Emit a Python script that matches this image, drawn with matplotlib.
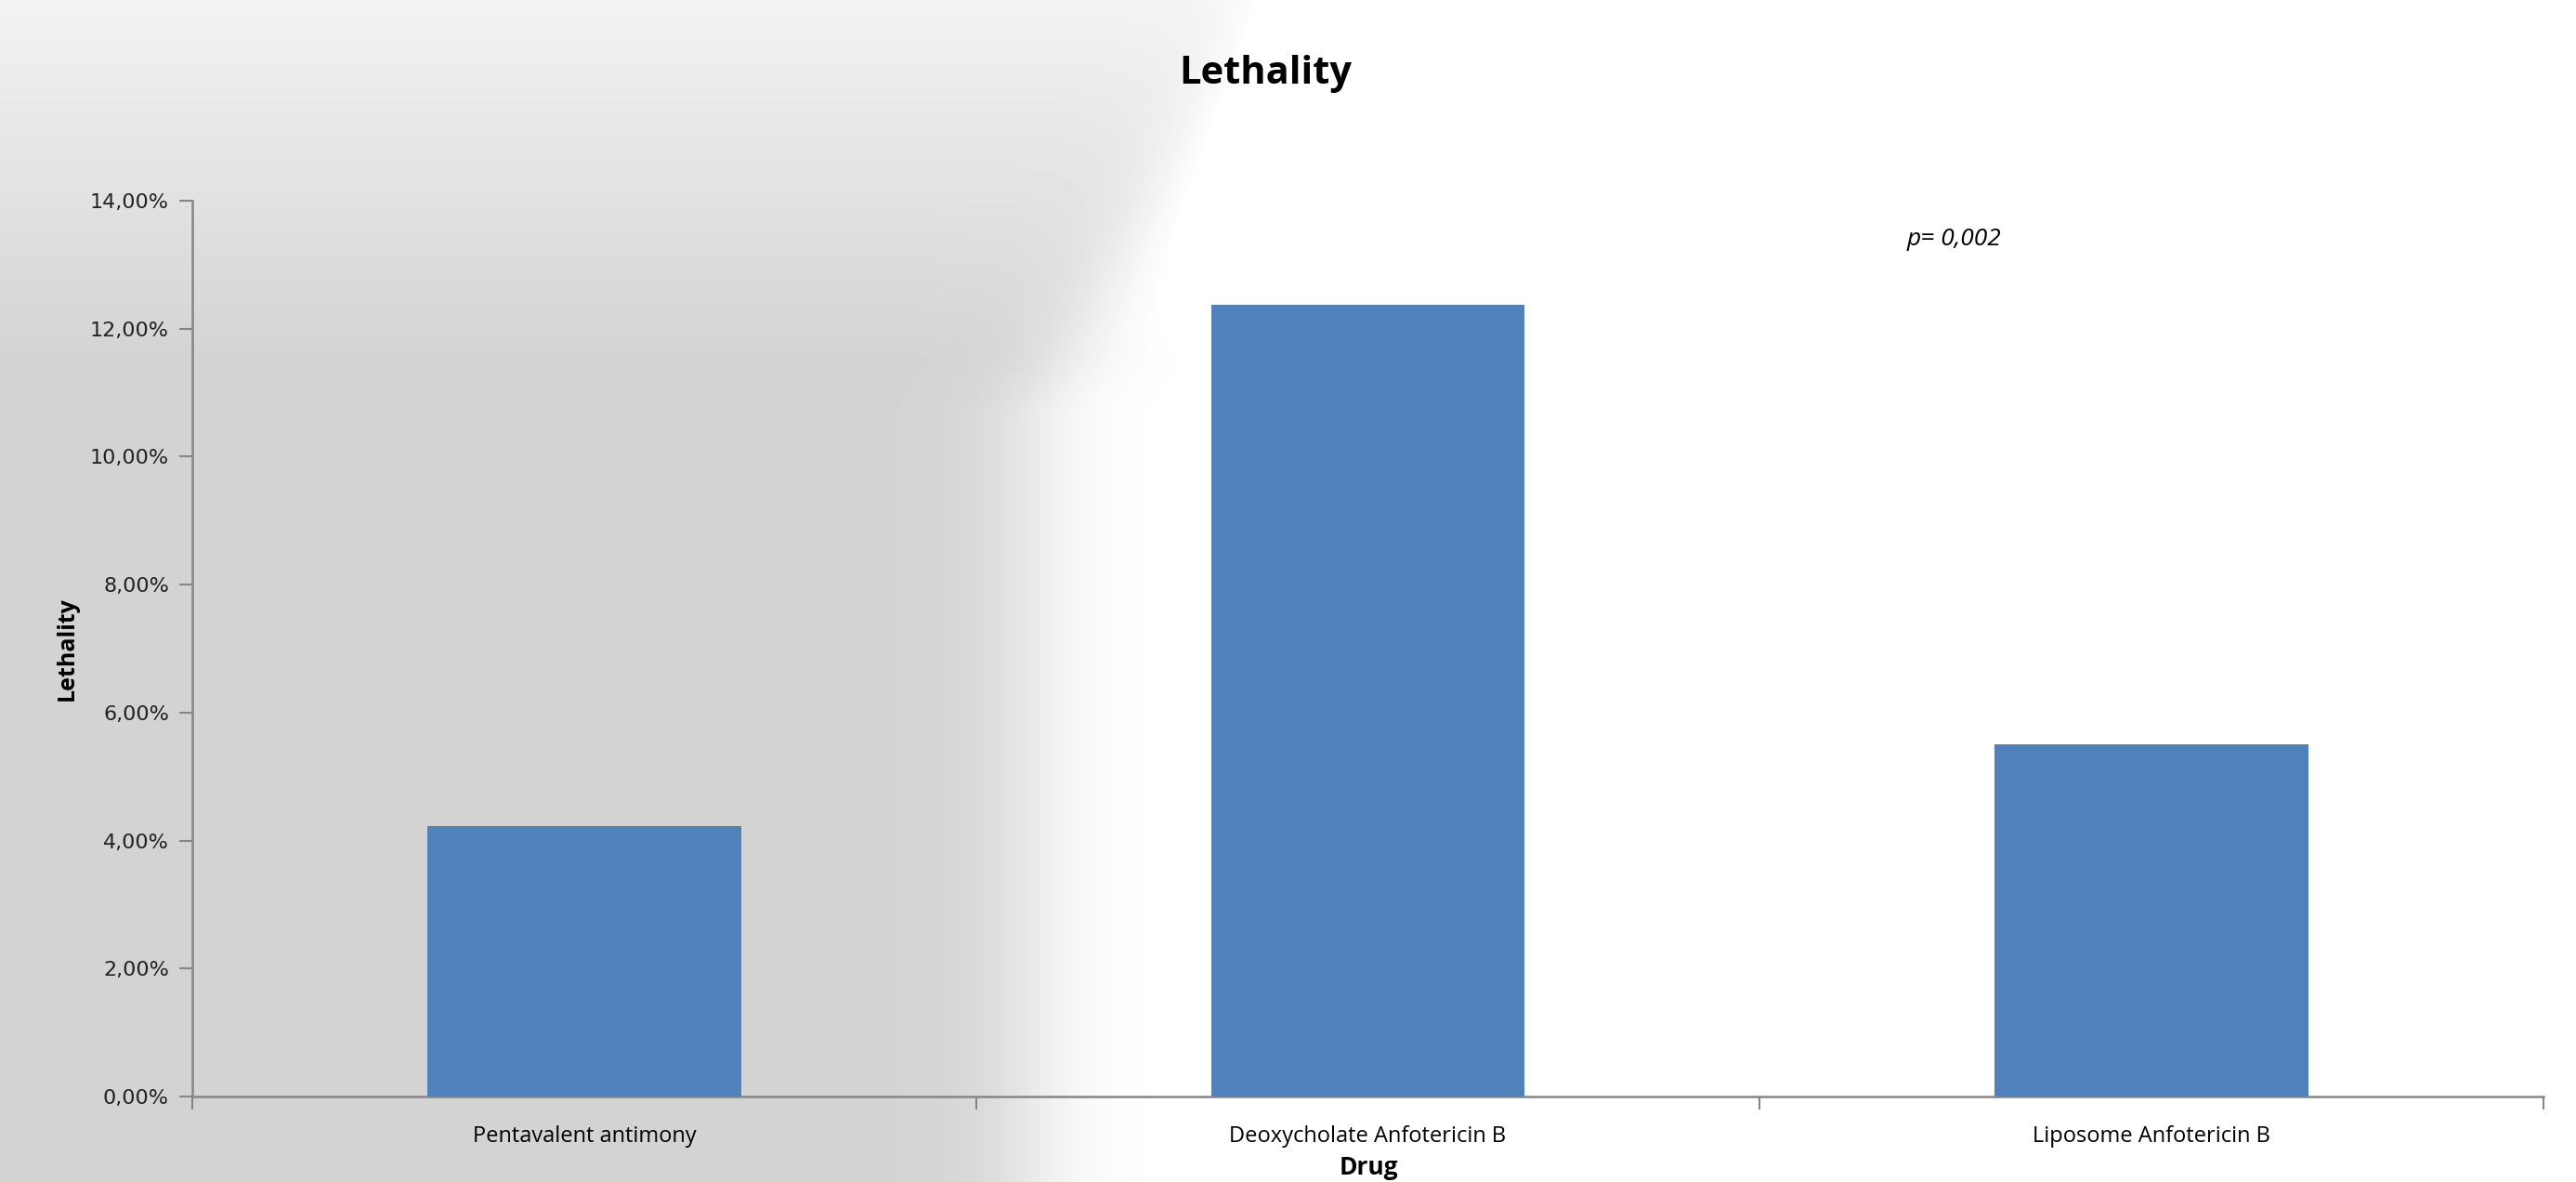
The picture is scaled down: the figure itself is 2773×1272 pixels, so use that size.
import numpy as np
import matplotlib
matplotlib.use("Agg")
import matplotlib.pyplot as plt
from matplotlib.ticker import FuncFormatter

categories = ["Pentavalent antimony", "Deoxycholate Anfotericin B", "Liposome Anfotericin B"]
lethality = [4.22, 12.38, 5.51]
yticks = [0, 2, 4, 6, 8, 10, 12, 14]

W, H = 2773, 1272
fig = plt.figure(figsize=(W / 100, H / 100), dpi=100)

# background (greyish photo-like area on the left)
bg = fig.add_axes([0, 0, 1, 1])
xs = np.linspace(0, 1, 400)
ys = np.linspace(0, 1, 200)
X, Y = np.meshgrid(xs, ys)  # Y=0 top
edge = 0.40 + 0.10 * np.clip((0.35 - Y) / 0.35, 0, 1)
grey = 0.83 + 0.17 / (1 + np.exp(-(X - edge) / 0.012))
top_light = np.clip((0.30 - Y) / 0.30, 0, 1) * 0.12
grey = np.clip(grey + top_light, 0, 1)
grey = np.where(X > edge + 0.05, 1.0, grey)
bg.imshow(grey, cmap="gray", vmin=0, vmax=1, aspect="auto", extent=[0, 1, 0, 1], interpolation="bilinear")
bg.set_axis_off()

ax = fig.add_axes([207 / W, 1 - 1180 / H, (2738 - 207) / W, (1180 - 216) / H])
ax.patch.set_alpha(0)
x = np.arange(len(categories))
ax.bar(x, lethality, width=0.4, color="#4F81BD", zorder=3)
ax.set_xlim(-0.5, 2.5)
ax.set_ylim(0, 14)
ax.set_yticks(yticks)
ax.yaxis.set_major_formatter(FuncFormatter(lambda v, p: f"{v:.2f}%".replace(".", ",")))
ax.set_xticks([-0.5, 0.5, 1.5, 2.5], minor=False)
ax.set_xticklabels([])
ax.set_xticks(x, minor=True)
ax.set_xticklabels(categories, minor=True, fontsize=17, family="Open Sans")
ax.tick_params(axis="x", which="minor", length=0, pad=22)
ax.tick_params(axis="x", which="major", length=10, color="#868686", width=1.5, direction="out")
ax.tick_params(axis="y", length=10, color="#868686", width=1.5, labelsize=16, pad=8)
for t in ax.get_yticklabels():
    t.set_family("DejaVu Sans")
    t.set_color("#222222")
for s in ["top", "right"]:
    ax.spines[s].set_visible(False)
for s in ["left", "bottom"]:
    ax.spines[s].set_color("#868686")
    ax.spines[s].set_linewidth(1.8)

fig.text(72 / W, 1 - 698 / H, "Lethality", fontsize=18, fontweight="bold", rotation=90,
         family=["Liberation Sans Narrow", "Open Sans"], ha="center", va="center")
fig.text(1473 / W, 1 - 1256 / H, "Drug", fontsize=19, fontweight="bold", family="Open Sans", ha="center", va="center")
fig.text(1362 / W, 1 - 80 / H, "Lethality", fontsize=30, fontweight="bold", family="Open Sans", ha="center", va="center")
fig.text(2103 / W, 1 - 258 / H, "p= 0,002", fontsize=19, style="italic", family="Open Sans", ha="center", va="center")

fig.savefig("out.png", dpi=100)
